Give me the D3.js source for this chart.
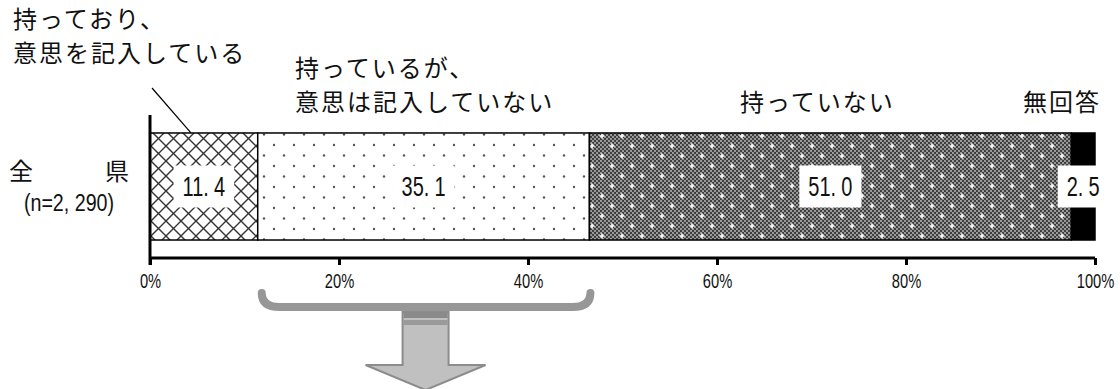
<!DOCTYPE html>
<html>
<head>
<meta charset="utf-8">
<script src="https://cdn.jsdelivr.net/npm/d3@7"></script>
<style>
	html, body { margin: 0; padding: 0; background: #fff; }
	#app { width: 1120px; height: 389px; }
	.jp { font-family: "Noto Sans CJK JP", "Noto Sans", sans-serif; fill: #111; }
	.num { font-family: "Liberation Sans", Arial, sans-serif; fill: #111; }
</style>
</head>
<body>
<div id="app"></div>
<script>
// data
const categories = ['全県'];
const sampleLabels = ['(n=2, 290)'];
const seriesNames = ['持っており、\n意思を記入している', '持っているが、\n意思は記入していない', '持っていない', '無回答'];
const seriesValues = [11.4, 35.1, 51.0, 2.5];
const tickValues = [0, 20, 40, 60, 80, 100];

(function () {

	let app = d3.select('#app'),
		outerWidth = 1120,
		outerHeight = 389,
		margin = { top: 115, right: 25, bottom: 131, left: 150 },
		width = outerWidth - margin.left - margin.right,
		height = outerHeight - margin.top - margin.bottom,
		narrow = 0.74; // the source font is a condensed one

	let svg = app.append('svg')
		.attr('width', outerWidth)
		.attr('height', outerHeight);

	// fill patterns
	let defs = svg.append('defs');

	let cross = defs.append('pattern')
		.attr('id', 'cross')
		.attr('patternUnits', 'userSpaceOnUse')
		.attr('x', 151).attr('y', 133)
		.attr('width', 15).attr('height', 15);
	cross.append('rect').attr('width', 15).attr('height', 15).attr('fill', '#fff');
	cross.append('path')
		.attr('d', 'M0,0L15,15M15,0L0,15M-1,14L1,16M14,-1L16,1')
		.attr('stroke', '#333').attr('stroke-width', 1.4);

	let dots = defs.append('pattern')
		.attr('id', 'dots')
		.attr('patternUnits', 'userSpaceOnUse')
		.attr('x', 264).attr('y', 138)
		.attr('width', 20).attr('height', 21);
	dots.append('rect').attr('width', 20).attr('height', 21).attr('fill', '#fff');
	[[0, 0], [20, 0], [0, 21], [20, 21], [10, 10.5]].forEach(p => {
		dots.append('circle').attr('cx', p[0]).attr('cy', p[1]).attr('r', 1.2).attr('fill', '#555');
	});

	let checker = defs.append('pattern')
		.attr('id', 'checker')
		.attr('patternUnits', 'userSpaceOnUse')
		.attr('width', 4).attr('height', 4);
	checker.append('rect').attr('width', 4).attr('height', 4).attr('fill', '#9a9a9a');
	checker.append('rect').attr('width', 2).attr('height', 2).attr('fill', '#3e3e3e');
	checker.append('rect').attr('x', 2).attr('y', 2).attr('width', 2).attr('height', 2).attr('fill', '#3e3e3e');

	let dark = defs.append('pattern')
		.attr('id', 'dark')
		.attr('patternUnits', 'userSpaceOnUse')
		.attr('x', 602).attr('y', 133)
		.attr('width', 20).attr('height', 20);
	dark.append('rect').attr('width', 20).attr('height', 20).attr('fill', 'url(#checker)');
	[[0, 0], [20, 0], [0, 20], [20, 20], [10, 10]].forEach(p => {
		dark.append('path')
			.attr('d', `M${p[0] - 2.5},${p[1]}H${p[0] + 2.5}M${p[0]},${p[1] - 2.5}V${p[1] + 2.5}`)
			.attr('stroke', '#fff').attr('stroke-width', 1.6);
	});

	const fills = ['url(#cross)', 'url(#dots)', 'url(#dark)', '#000'];

	let graph = svg.append('g')
		.attr('transform', `translate(${ margin.left }, ${ margin.top })`);

	let x = d3.scaleLinear()
		.domain([0, 100])
		.range([0, width]);

	let y = d3.scaleBand()
		.domain(categories)
		.range([0, 143])
		.paddingOuter(0.168);

	// stack the shares
	let stacked = [];
	let acc = 0;
	seriesValues.forEach((v, i) => {
		stacked.push({ name: seriesNames[i], value: v, x0: acc, x1: acc + v, fill: fills[i] });
		acc += v;
	});

	let row = graph.append('g')
		.attr('transform', `translate(0, ${ y(categories[0]) })`);

	row.selectAll('rect.seg')
		.data(stacked)
		.enter().append('rect')
			.attr('class', 'seg')
			.attr('x', d => x(d.x0))
			.attr('y', 0)
			.attr('width', d => x(d.x1) - x(d.x0))
			.attr('height', y.bandwidth())
			.attr('fill', d => d.fill)
			.attr('stroke', '#000')
			.attr('stroke-width', 1.5);

	// value labels in white boxes
	let labels = row.selectAll('g.lab')
		.data(stacked)
		.enter().append('g')
			.attr('class', 'lab')
			.attr('transform', d => `translate(${ x((d.x0 + d.x1) / 2) }, ${ y.bandwidth() / 2 })`);

	labels.append('rect').attr('fill', '#fff');

	let txt = labels.append('text')
		.attr('class', 'num')
		.attr('font-size', 27)
		.attr('text-anchor', 'middle')
		.attr('transform', `scale(${ narrow }, 1)`)
		.attr('dy', '0.36em');
	txt.append('tspan').text(d => d3.format('.1f')(d.value).split('.')[0] + '.');
	txt.append('tspan').attr('dx', 7).text(d => d3.format('.1f')(d.value).split('.')[1]);

	txt.each(function () {
		let b = this.getBBox();
		d3.select(this.parentNode).select('rect')
			.attr('x', b.x * narrow - 9)
			.attr('y', -21)
			.attr('width', b.width * narrow + 18)
			.attr('height', 42);
	});

	// x axis
	let xAxis = graph.append('g')
		.attr('transform', `translate(0, ${ height })`)
		.call(d3.axisBottom(x)
			.tickValues(tickValues)
			.tickSize(7)
			.tickFormat(d => d + '%'));
	xAxis.select('.domain')
		.attr('d', `M0,0H${ width }`)
		.attr('stroke', '#000')
		.attr('stroke-width', 3);
	xAxis.selectAll('.tick line').attr('stroke-width', 3);
	xAxis.selectAll('.tick text')
		.attr('class', 'num')
		.attr('font-size', 21)
		.attr('transform', 'scale(0.7, 1)')
		.attr('y', 15)
		.attr('dy', '0.71em');

	// y axis line
	graph.append('line')
		.attr('x1', 0).attr('x2', 0)
		.attr('y1', 0).attr('y2', height + 7)
		.attr('stroke', '#000')
		.attr('stroke-width', 3);

	// category label
	let cat = svg.append('g').attr('transform', `translate(69, ${ margin.top + y(categories[0]) + y.bandwidth() / 2 })`);
	cat.append('text')
		.attr('class', 'jp')
		.attr('font-size', 24)
		.attr('text-anchor', 'middle')
		.attr('y', -7)
		.attr('xml:space', 'preserve')
		.text(categories[0].split('').join('\u3000\u3000\u3000'));
	cat.append('text')
		.attr('class', 'num')
		.attr('font-size', 24)
		.attr('text-anchor', 'middle')
		.attr('transform', 'scale(0.82, 1)')
		.attr('y', 25)
		.text(sampleLabels[0]);

	// series labels above the bar
	const labelPos = [[13, 28], [295, 77], [740, 111], [1023, 111]];
	seriesNames.forEach((name, i) => {
		let lines = name.split('\n');
		let t = svg.append('text')
			.attr('class', 'jp')
			.attr('font-size', 24)
			.attr('letter-spacing', 2)
			.attr('x', labelPos[i][0])
			.attr('y', labelPos[i][1]);
		lines.forEach((l, j) => {
			t.append('tspan')
				.attr('x', labelPos[i][0])
				.attr('dy', j ? 34 : 0)
				.text(l);
		});
	});

	// leader line for the first series
	svg.append('line')
		.attr('x1', 152).attr('y1', 88)
		.attr('x2', margin.left + x(stacked[0].x0 + stacked[0].value * 0.38))
		.attr('y2', margin.top + y(categories[0]))
		.attr('stroke', '#000')
		.attr('stroke-width', 1.2);

	// bracket under the 2nd segment, with arrow
	let bx0 = margin.left + x(stacked[0].x1) + 4,
		bx1 = margin.left + x(stacked[1].x1) + 1,
		by0 = 293,
		by1 = 307,
		r = 18;
	svg.append('path')
		.attr('d', `M${ bx0 },${ by0 }Q${ bx0 },${ by1 } ${ bx0 + r },${ by1 }H${ bx1 - r }Q${ bx1 },${ by1 } ${ bx1 },${ by0 }`)
		.attr('fill', 'none')
		.attr('stroke', '#979797')
		.attr('stroke-width', 8)
		.attr('stroke-linecap', 'round');

	let ax = (bx0 + bx1) / 2 - 0.5;
	svg.append('path')
		.attr('d', `M${ ax - 23 },312V365H${ ax - 60 }L${ ax },390L${ ax + 60 },365H${ ax + 23 }V312Z`)
		.attr('fill', '#c0c0c0')
		.attr('stroke', '#8c8c8c')
		.attr('stroke-width', 2);
	svg.append('rect')
		.attr('x', ax - 22).attr('y', 312)
		.attr('width', 44).attr('height', 6)
		.attr('fill', '#8a8a8a');
	svg.append('rect')
		.attr('x', ax - 22).attr('y', 320)
		.attr('width', 44).attr('height', 5)
		.attr('fill', '#9a9a9a');

})();
</script>
</body>
</html>
